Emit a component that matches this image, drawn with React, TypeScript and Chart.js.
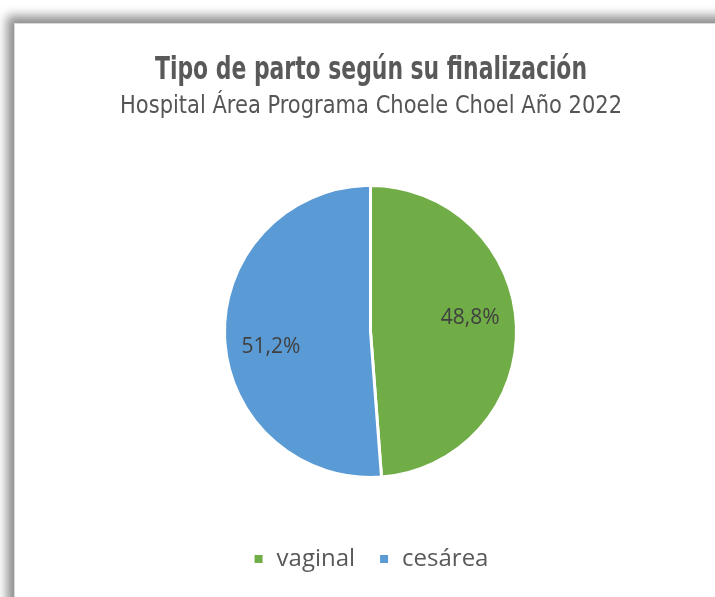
import React, { useEffect, useRef } from "react";
import { Chart, registerables } from "chart.js";

Chart.register(...registerables);

const categories = ["vaginal", "cesárea"];
const percentages = [48.8, 51.2];
const sliceColors = ["#70AD47", "#5B9BD5"];
const titleText = "Tipo de parto según su finalización";
const subtitleText = "Hospital Área Programa Choele Choel Año 2022";

const headerPlugin = {
  id: "condensedHeader",
  afterDraw(chart: any) {
    const ctx = chart.ctx;
    ctx.save();
    ctx.fillStyle = "#595959";
    ctx.textAlign = "center";
    ctx.textBaseline = "alphabetic";
    ctx.font = "bold 32px 'DejaVu Sans Condensed', sans-serif";
    ctx.fillText(titleText, 371, 79, 432);
    ctx.font = "25px 'DejaVu Sans Condensed', sans-serif";
    ctx.fillStyle = "#555555";
    ctx.fillText(subtitleText, 371, 113, 502);
    ctx.restore();
  },
};

const labelPlugin = {
  id: "sliceLabels",
  afterDatasetsDraw(chart: any) {
    const ctx = chart.ctx;
    const meta = chart.getDatasetMeta(0);
    ctx.save();
    ctx.font = "21px 'Open Sans', sans-serif";
    ctx.fillStyle = "#404040";
    ctx.textAlign = "center";
    ctx.textBaseline = "middle";
    meta.data.forEach((arc: any, i: number) => {
      const mid = (arc.startAngle + arc.endAngle) / 2 - 0.11;
      const r = arc.outerRadius * 0.69;
      const x = arc.x + Math.cos(mid) * r;
      const y = arc.y + Math.sin(mid) * r + 1;
      const v = chart.data.datasets[0].data[i] as number;
      ctx.fillText(v.toFixed(1).replace(".", ",") + "%", x, y);
    });
    ctx.restore();
  },
};

export default function App() {
  const ref = useRef<HTMLCanvasElement | null>(null);
  useEffect(() => {
    if (!ref.current) return;
    const chart = new Chart(ref.current, {
      type: "pie",
      data: {
        labels: categories,
        datasets: [
          {
            data: percentages,
            backgroundColor: sliceColors,
            borderColor: "#ffffff",
            borderWidth: 3,
            radius: 146,
          },
        ],
      },
      options: {
        responsive: false,
        animation: false,
        layout: { padding: { left: 26, right: 0, top: 139, bottom: 16 } },
        plugins: {
          title: { display: false },
          legend: {
            display: true,
            position: "bottom",
            labels: {
              color: "#595959",
              font: { family: "'Open Sans', sans-serif", size: 24 },
              boxWidth: 12,
              boxHeight: 11,
              usePointStyle: true,
              pointStyle: "rect",
              padding: 23,
            },
          },
          tooltip: { enabled: false },
        },
      },
      plugins: [labelPlugin, headerPlugin],
    });
    return () => chart.destroy();
  }, []);

  return (
    <div style={{ position: "fixed", left: 0, top: 0, width: 715, height: 597, overflow: "hidden", background: "#ffffff" }}>
      <div
        style={{
          position: "absolute",
          left: 14,
          top: 23,
          width: 760,
          height: 640,
          background: "#ffffff",
          border: "1px solid #d9d9d9",
          boxShadow: "-7px -7px 10px rgba(0,0,0,0.45)",
        }}
      />
      <canvas ref={ref} width={715} height={597} style={{ position: "absolute", left: 0, top: 0 }} />
    </div>
  );
}
